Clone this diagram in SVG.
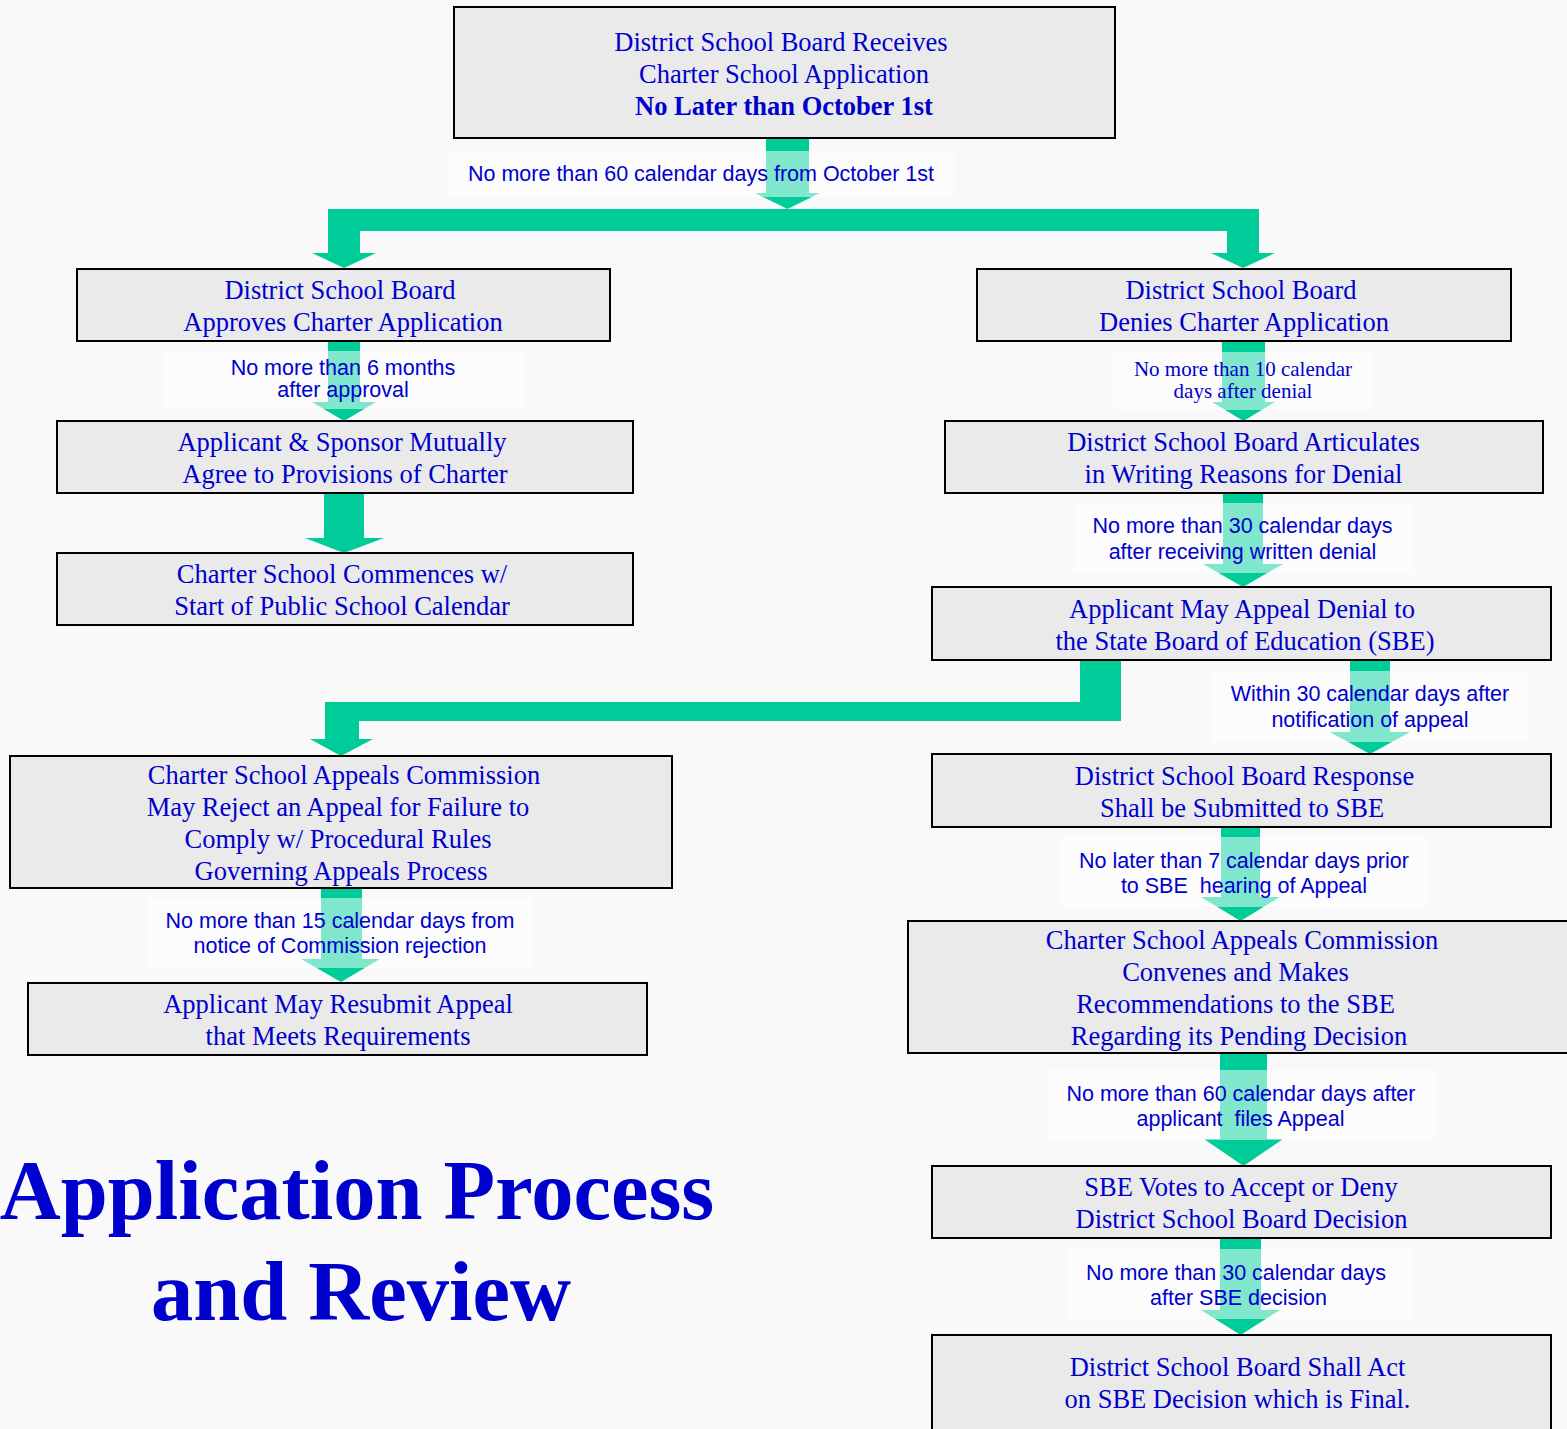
<svg xmlns="http://www.w3.org/2000/svg" width="1567" height="1429" viewBox="0 0 1567 1429">
<style>
.box{fill:#EAEAEA;stroke:#000;stroke-width:2}
.t{font-family:"Liberation Serif","Times New Roman",serif;font-size:26.5px;fill:#0000CC;text-anchor:middle}
.b{font-weight:bold}
.l{font-family:"Liberation Sans",Arial,sans-serif;font-size:21.5px;fill:#0000CC;text-anchor:middle;white-space:pre}
.ls{font-family:"Liberation Serif","Times New Roman",serif;font-size:21px;fill:#0000CC;text-anchor:middle}
.arr{fill:#00CC99}
.lab{fill:#FFFFFF;fill-opacity:0.5}
.title{font-family:"Liberation Serif","Times New Roman",serif;font-size:84.5px;font-weight:bold;fill:#0000CC;text-anchor:middle}
</style>
<rect x="0" y="0" width="1567" height="1429" fill="#F9F9F9"/>
<g id="connectors">
<polygon class="arr" points="766,138 809,138 809,193 820,193 787.5,209 755,193 766,193"/>
<path class="arr" d="M328,209 H1259 V253 H1275 L1243,268 L1211,253 H1227 V231 H360 V253 H376 L344,268 L312,253 H328 Z"/>
<polygon class="arr" points="328,341 360,341 360,402 376,402 344,421 312,402 328,402"/>
<polygon class="arr" points="324,493 364,493 364,538 384,538 344,553 305,538 324,538"/>
<polygon class="arr" points="1222,341 1265,341 1265,402 1275,402 1243.5,421 1212,402 1222,402"/>
<polygon class="arr" points="1223,493 1263,493 1263,564 1283,564 1243,587 1203,564 1223,564"/>
<path class="arr" d="M1080,660 H1121 V721 H359 V739 H373 L341,756 L310,739 H325 V702 H1080 Z"/>
<polygon class="arr" points="1350,660 1390,660 1390,732 1410,732 1370,754 1330,732 1350,732"/>
<polygon class="arr" points="1221,827 1260,827 1260,897 1280,897 1240.5,921 1201,897 1221,897"/>
<polygon class="arr" points="321,888 362,888 362,959 380,959 341,982 301,959 321,959"/>
<polygon class="arr" points="1220,1053 1267,1053 1267,1139 1283,1139 1243.5,1166 1204,1139 1220,1139"/>
<polygon class="arr" points="1220,1238 1261,1238 1261,1310 1280,1310 1240.5,1335 1201,1310 1220,1310"/>
<g id="label1"><rect class="lab" x="449" y="151" width="505" height="46"/><text class="l" x="701" y="181">No more than 60 calendar days from October 1st</text></g>
<g id="label2"><rect class="lab" x="163" y="351" width="362" height="58"/><text class="l" x="343" y="375">No more than 6 months</text><text class="l" x="343" y="397">after approval</text></g>
<g id="label3"><rect class="lab" x="1113" y="352" width="260" height="58"/><text class="ls" x="1243" y="376">No more than 10 calendar</text><text class="ls" x="1243" y="398">days after denial</text></g>
<g id="label4"><rect class="lab" x="1074" y="503" width="339" height="70"/><text class="l" x="1242.5" y="533">No more than 30 calendar days</text><text class="l" x="1242.5" y="559">after receiving written denial</text></g>
<g id="label5"><rect class="lab" x="1212" y="671" width="316" height="71"/><text class="l" x="1370" y="701">Within 30 calendar days after</text><text class="l" x="1370" y="727">notification of appeal</text></g>
<g id="label6"><rect class="lab" x="1061" y="837" width="368" height="70"/><text class="l" x="1244" y="868">No later than 7 calendar days prior</text><text class="l" x="1244" y="893">to SBE  hearing of Appeal</text></g>
<g id="label7"><rect class="lab" x="147" y="898" width="386" height="70"/><text class="l" x="340" y="928">No more than 15 calendar days from</text><text class="l" x="340" y="953">notice of Commission rejection</text></g>
<g id="label8"><rect class="lab" x="1047" y="1070" width="388" height="70"/><text class="l" x="1241" y="1101">No more than 60 calendar days after</text><text class="l" x="1240.5" y="1126">applicant  files Appeal</text></g>
<g id="label9"><rect class="lab" x="1068" y="1249" width="345" height="70"/><text class="l" x="1236" y="1280">No more than 30 calendar days</text><text class="l" x="1238.5" y="1305">after SBE decision</text></g>
</g>
<g id="n-receives"><rect class="box" x="454" y="7" width="661" height="131"/><text class="t" x="781" y="51">District School Board Receives</text><text class="t" x="784" y="83">Charter School Application</text><text class="t b" x="784" y="115">No Later than October 1st</text></g>
<g id="n-approves"><rect class="box" x="77" y="269" width="533" height="72"/><text class="t" x="340" y="299">District School Board</text><text class="t" x="343" y="331">Approves Charter Application</text></g>
<g id="n-denies"><rect class="box" x="977" y="269" width="534" height="72"/><text class="t" x="1241" y="299">District School Board</text><text class="t" x="1244" y="331">Denies Charter Application</text></g>
<g id="n-agree"><rect class="box" x="57" y="421" width="576" height="72"/><text class="t" x="342" y="451">Applicant &amp; Sponsor Mutually</text><text class="t" x="345" y="483">Agree to Provisions of Charter</text></g>
<g id="n-commences"><rect class="box" x="57" y="553" width="576" height="72"/><text class="t" x="342" y="583">Charter School Commences w/</text><text class="t" x="342" y="615">Start of Public School Calendar</text></g>
<g id="n-articulates"><rect class="box" x="945" y="421" width="598" height="72"/><text class="t" x="1243.5" y="451">District School Board Articulates</text><text class="t" x="1243.5" y="483">in Writing Reasons for Denial</text></g>
<g id="n-appeal"><rect class="box" x="932" y="587" width="619" height="73"/><text class="t" x="1242" y="618">Applicant May Appeal Denial to</text><text class="t" x="1245" y="650">the State Board of Education (SBE)</text></g>
<g id="n-reject"><rect class="box" x="10" y="756" width="662" height="132"/><text class="t" x="344" y="784">Charter School Appeals Commission</text><text class="t" x="338" y="816">May Reject an Appeal for Failure to</text><text class="t" x="338" y="848">Comply w/ Procedural Rules</text><text class="t" x="341" y="880">Governing Appeals Process</text></g>
<g id="n-response"><rect class="box" x="932" y="754" width="619" height="73"/><text class="t" x="1244.5" y="785">District School Board Response</text><text class="t" x="1242" y="817">Shall be Submitted to SBE</text></g>
<g id="n-resubmit"><rect class="box" x="28" y="983" width="619" height="72"/><text class="t" x="338" y="1013">Applicant May Resubmit Appeal</text><text class="t" x="338" y="1045">that Meets Requirements</text></g>
<g id="n-convenes"><rect class="box" x="908" y="921" width="672" height="132"/><text class="t" x="1242" y="949">Charter School Appeals Commission</text><text class="t" x="1235.5" y="981">Convenes and Makes</text><text class="t" x="1235.5" y="1013">Recommendations to the SBE</text><text class="t" x="1239" y="1045">Regarding its Pending Decision</text></g>
<g id="n-votes"><rect class="box" x="932" y="1166" width="619" height="72"/><text class="t" x="1241" y="1196">SBE Votes to Accept or Deny</text><text class="t" x="1241.5" y="1228">District School Board Decision</text></g>
<g id="n-final"><rect class="box" x="932" y="1335" width="619" height="110"/><text class="t" x="1237.5" y="1376">District School Board Shall Act</text><text class="t" x="1237.5" y="1408">on SBE Decision which is Final.</text></g>
<g id="title"><text class="title" x="357" y="1219">Application Process</text><text class="title" x="361" y="1320">and Review</text></g>
</svg>
